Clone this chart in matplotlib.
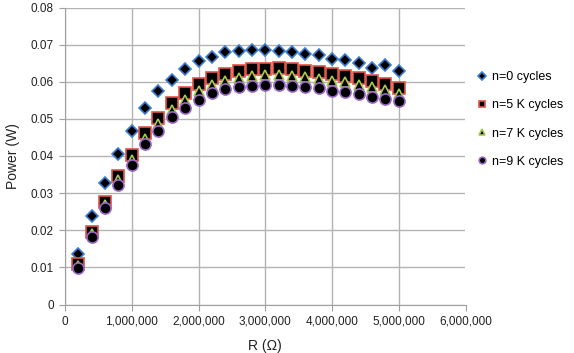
import matplotlib
matplotlib.use("Agg")
import matplotlib.pyplot as plt
from matplotlib.ticker import FuncFormatter, MultipleLocator

plt.rcParams["font.family"] = ["Liberation Sans", "DejaVu Sans"]

# resistance (ohm), 200k steps
r_vals = [200000 * i for i in range(1, 26)]

p_n0 = [0.0136, 0.0239, 0.0328, 0.0406, 0.0468, 0.0529, 0.0575, 0.0605, 0.0635,
        0.0656, 0.0668, 0.0680, 0.0684, 0.0686, 0.0686, 0.0684, 0.0681, 0.0675,
        0.0671, 0.0661, 0.0658, 0.0650, 0.0637, 0.0644, 0.0630]
p_n5k = [0.0108, 0.0195, 0.0276, 0.0345, 0.0404, 0.0461, 0.0502, 0.0542, 0.0571,
         0.0594, 0.0610, 0.0621, 0.0629, 0.0634, 0.0635, 0.0637, 0.0634, 0.0630,
         0.0626, 0.0621, 0.0616, 0.0610, 0.0603, 0.0594, 0.0583]
p_n7k = [0.0104, 0.0189, 0.0268, 0.0335, 0.0390, 0.0447, 0.0485, 0.0524, 0.0552,
         0.0575, 0.0592, 0.0603, 0.0611, 0.0616, 0.0617, 0.0619, 0.0616, 0.0612,
         0.0608, 0.0603, 0.0598, 0.0592, 0.0585, 0.0577, 0.0567]
p_n9k = [0.0099, 0.0183, 0.0259, 0.0322, 0.0376, 0.0432, 0.0466, 0.0505, 0.0530,
         0.0551, 0.0569, 0.0580, 0.0585, 0.0589, 0.0592, 0.0592, 0.0589, 0.0587,
         0.0583, 0.0576, 0.0573, 0.0567, 0.0560, 0.0554, 0.0547]

labels = ["n=0 cycles", "n=5 K cycles", "n=7 K cycles", "n=9 K cycles"]

fig = plt.figure(figsize=(5.74, 3.53), dpi=100)
ax = fig.add_axes([65 / 574, 48.5 / 353, 400.5 / 574, 297 / 353])

ax.plot(r_vals, p_n0, ls="none", marker="D", ms=6.5, mfc="black", mec="#3d7fd6", mew=1.2, label=labels[0], zorder=3)
ax.plot(r_vals, p_n5k, ls="none", marker="s", ms=8, mfc="black", mec="#e0544a", mew=1.2, label=labels[1], zorder=4)
ax.plot(r_vals, p_n7k, ls="none", marker="^", ms=7.5, mfc="black", mec="#a8c84a", mew=1.2, label=labels[2], zorder=5)
ax.plot(r_vals, p_n9k, ls="none", marker="o", ms=8, mfc="black", mec="#9a6ac8", mew=1.2, label=labels[3], zorder=6)

ax.set_xlim(0, 6000000)
ax.set_ylim(0, 0.08)
ax.xaxis.set_major_locator(MultipleLocator(1000000))
ax.yaxis.set_major_locator(MultipleLocator(0.01))
ax.xaxis.set_major_formatter(FuncFormatter(lambda v, p: f"{int(v):,}"))
ax.yaxis.set_major_formatter(FuncFormatter(lambda v, p: "0" if v == 0 else f"{v:.2f}"))

ax.grid(True, color="#b3b3b3", lw=1.0)
ax.set_axisbelow(True)
for s in ["top", "right"]:
    ax.spines[s].set_visible(False)
for s in ["left", "bottom"]:
    ax.spines[s].set_color("#a0a0a0")
ax.tick_params(axis="both", direction="out", length=4, color="#a0a0a0",
               labelsize=8.5, labelcolor="#222222", pad=4)

ax.set_xlabel("R (\u03a9)", fontsize=10, color="#222222", labelpad=8)
ax.set_ylabel("Power (W)", fontsize=10, color="#222222", labelpad=8)

fig.legend(loc="upper left", bbox_to_anchor=(471 / 574, 1 - 66 / 353), frameon=False,
           fontsize=9, markerscale=0.6, labelspacing=1.3, handletextpad=0.25,
           handlelength=1.0, borderaxespad=0)

fig.savefig("out.png", dpi=100)
